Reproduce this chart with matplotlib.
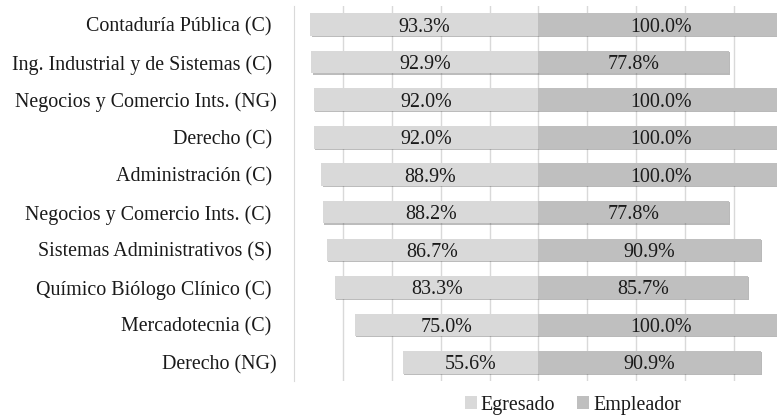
import matplotlib.pyplot as plt
import matplotlib.patheffects as pe

carreras = ['Contaduría Pública (C) ', 'Ing. Industrial y de Sistemas (C) ',
            'Negocios y Comercio Ints. (NG)', 'Derecho (C) ', 'Administración (C) ',
            'Negocios y Comercio Ints. (C) ', 'Sistemas Administrativos (S) ',
            'Químico Biólogo Clínico (C) ', 'Mercadotecnia (C) ', 'Derecho (NG)']
egresado = [93.3, 92.9, 92.0, 92.0, 88.9, 88.2, 86.7, 83.3, 75.0, 55.6]
empleador = [100.0, 77.8, 100.0, 100.0, 100.0, 77.8, 90.9, 85.7, 100.0, 90.9]

plt.rcParams['font.family'] = 'Liberation Serif'
fs = 14.4
c_egr = '#d9d9d9'
c_emp = '#bfbfbf'
c_txt = '#1a1a1a'

fig = plt.figure(figsize=(7.77, 4.15), dpi=100)
ax = fig.add_axes([294 / 777, 1 - 381 / 415, 1 - 294 / 777, 375 / 415])

y = list(range(len(carreras)))
sombra = [pe.SimplePatchShadow(offset=(1, -1), alpha=0.35), pe.Normal()]
b1 = ax.barh(y, [-v for v in egresado], height=0.6, color=c_egr, label='Egresado', zorder=2)
b2 = ax.barh(y, empleador, height=0.6, color=c_emp, label='Empleador', zorder=2)
for b in list(b1) + list(b2):
    b.set_path_effects(sombra)

for i in y:
    ax.text(-egresado[i] / 2, i, f'{egresado[i]:.1f}%', ha='center', va='center_baseline',
            fontsize=fs, color=c_txt, zorder=3)
    ax.text(empleador[i] / 2, i, f'{empleador[i]:.1f}%', ha='center', va='center_baseline',
            fontsize=fs, color=c_txt, zorder=3)

ax.set_xlim(-100, 97.6)
ax.set_ylim(len(carreras) - 0.5, -0.5)
ax.set_xticks(range(-80, 100, 20))
ax.xaxis.grid(True, color='#d9d9d9', linewidth=1, zorder=0)
ax.set_axisbelow(True)
ax.tick_params(axis='x', length=0, labelbottom=False)
ax.tick_params(axis='y', length=0, labelsize=fs, pad=12.5, labelcolor=c_txt)
ax.set_yticks(y)
ax.set_yticklabels(carreras)
for s in ['top', 'right', 'bottom']:
    ax.spines[s].set_visible(False)
ax.spines['left'].set_color('#d9d9d9')

leg = ax.legend(loc='center', bbox_to_anchor=(573 / 777, 1 - 405 / 415), bbox_transform=fig.transFigure,
                ncol=2, frameon=False, fontsize=fs, handlelength=0.6, handleheight=0.6,
                handletextpad=0.2, columnspacing=1.1, labelcolor=c_txt)
for h in leg.legend_handles:
    h.set_path_effects([])
    h.set_edgecolor('none')

fig.savefig('out.png', dpi=100)
